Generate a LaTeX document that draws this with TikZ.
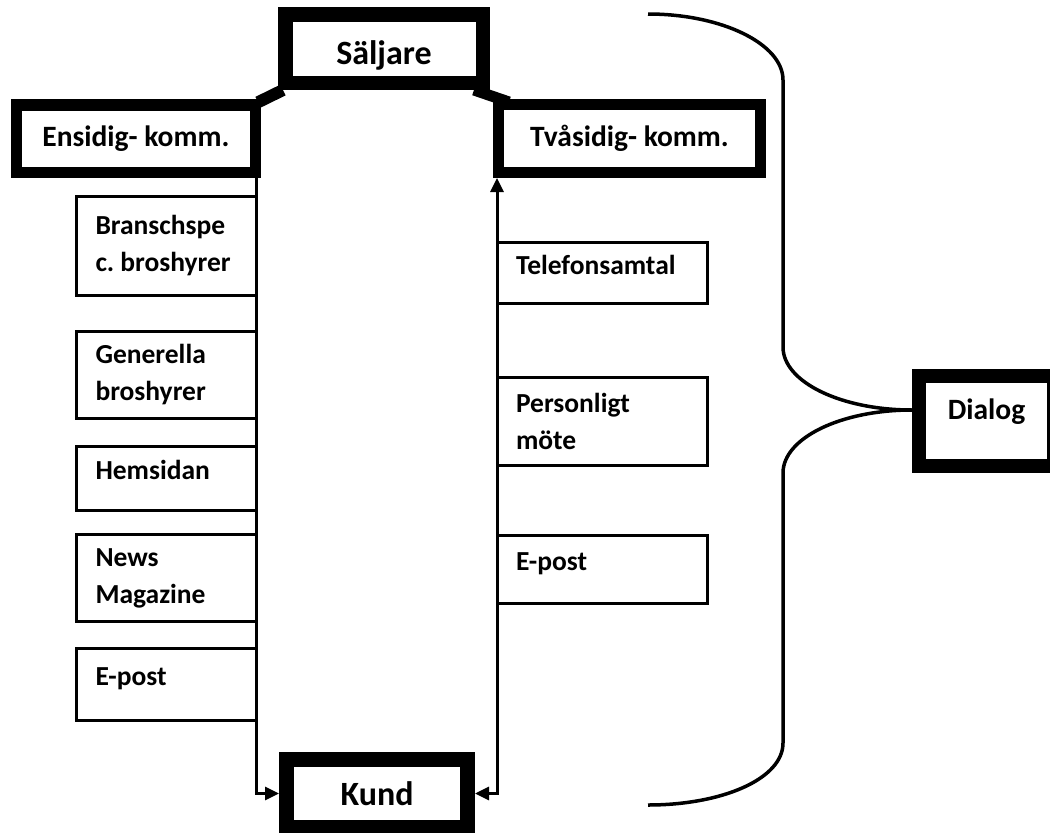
\documentclass[tikz,border=0pt]{standalone}
\usepackage{fontspec}
\setmainfont{Carlito}
\usetikzlibrary{arrows.meta,backgrounds}
\begin{document}
\frenchspacing
\begin{tikzpicture}[x=1pt,y=-1pt,
  thinbox/.style={draw, line width=3pt, fill=white, inner xsep=19pt, inner ysep=0pt,
    align=left, font=\bfseries\fontsize{27.5}{37}\selectfont},
  lthin/.style={thinbox, minimum width=179.5pt, text width=141.5pt},
  rthin/.style={thinbox, minimum width=210pt, text width=172pt},
  oneline/.style={text height=18pt, text depth=16pt},
  thickbox/.style={draw, fill=white, inner sep=0pt, align=center},
  midfont/.style={font=\bfseries\fontsize{29.5}{36}\selectfont},
  bigfont/.style={font=\bfseries\fontsize{34}{40}\selectfont},
  conn/.style={line width=3pt},
  tipend/.style={-{Triangle[length=14pt,width=13pt]}},
  tipboth/.style={{Triangle[length=14pt,width=13pt]}-{Triangle[length=14pt,width=13pt]}},
  bracestyle/.style={line width=3.5pt, line join=round}
]
\useasboundingbox (0,0) rectangle (1050,833);

% main thick boxes
\node[thickbox, bigfont, line width=14.5pt, minimum width=197.5pt, minimum height=68.5pt, text height=36pt, text depth=4pt] (sal) at (384,48.5) {S\"aljare};
\node[thickbox, midfont, line width=11.5pt, minimum width=238.75pt, minimum height=67.5pt] (ens) at (135.9,138.75) {Ensidig- komm.};
\node[thickbox, midfont, line width=11pt, minimum width=262pt, minimum height=68pt] (tva) at (629.5,138.5) {Tv\aa sidig- komm.};
\node[thickbox, bigfont, line width=15pt, minimum width=181pt, minimum height=68pt] (kund) at (377,793.5) {Kund};
\node[thickbox, midfont, line width=14pt, minimum width=135pt, minimum height=90pt, text height=20pt, text depth=24pt] (dia) at (986.5,421) {Dialog};

% elbow joins between the top boxes
\begin{scope}[on background layer]
  \draw[line width=12pt] ([xshift=5pt]sal.south west) -- ([xshift=-3pt,yshift=-3pt]ens.north east);
  \draw[line width=11pt] ([xshift=-16pt]sal.south east) -- ([xshift=16pt,yshift=-3pt]tva.north west);
\end{scope}

% vertical connectors
\coordinate (ll) at (256,0);
\coordinate (rl) at (497,0);
\draw[conn, tipend] (ll |- ens.south) |- (kund.west);
\draw[conn, tipboth] (kund.east) -| (rl |- tva.south);

% left boxes
\node[lthin, minimum height=99pt] (b1) at (166.25,246) {Branschspe\\c.\hspace{6pt}broshyrer};
\node[lthin, minimum height=87pt] (b2) at (166.25,375) {Generella\\broshyrer};
\node[lthin, oneline, minimum height=64pt] (b3) at (166.25,478.5) {Hemsidan};
\node[lthin, minimum height=87pt] (b4) at (166.25,578) {News\\Magazine};
\node[lthin, oneline, minimum height=72pt] (b5) at (166.25,684.5) {E-post};

% right boxes
\node[rthin, oneline, minimum height=61pt] (r1) at (602,273) {Telefonsamtal};
\node[rthin, minimum height=88pt] (r2) at (602,421.5) {Personligt\\m\"ote};
\node[rthin, oneline, minimum height=68pt] (r3) at (602,569.5) {E-post};

% brace to Dialog
\coordinate (btop) at (648,14);
\coordinate (bbot) at (648,805);
\draw[bracestyle] (btop) .. controls (722,14) and (783,44) .. (783,80)
  -- (783,347) .. controls (783,382) and (841,410) .. ([yshift=11pt]dia.west);
\draw[bracestyle] ([yshift=11pt]dia.west) .. controls (841,410) and (783,438) .. (783,473)
  -- (783,743) .. controls (783,779) and (722,805) .. (bbot);
\end{tikzpicture}
\end{document}
